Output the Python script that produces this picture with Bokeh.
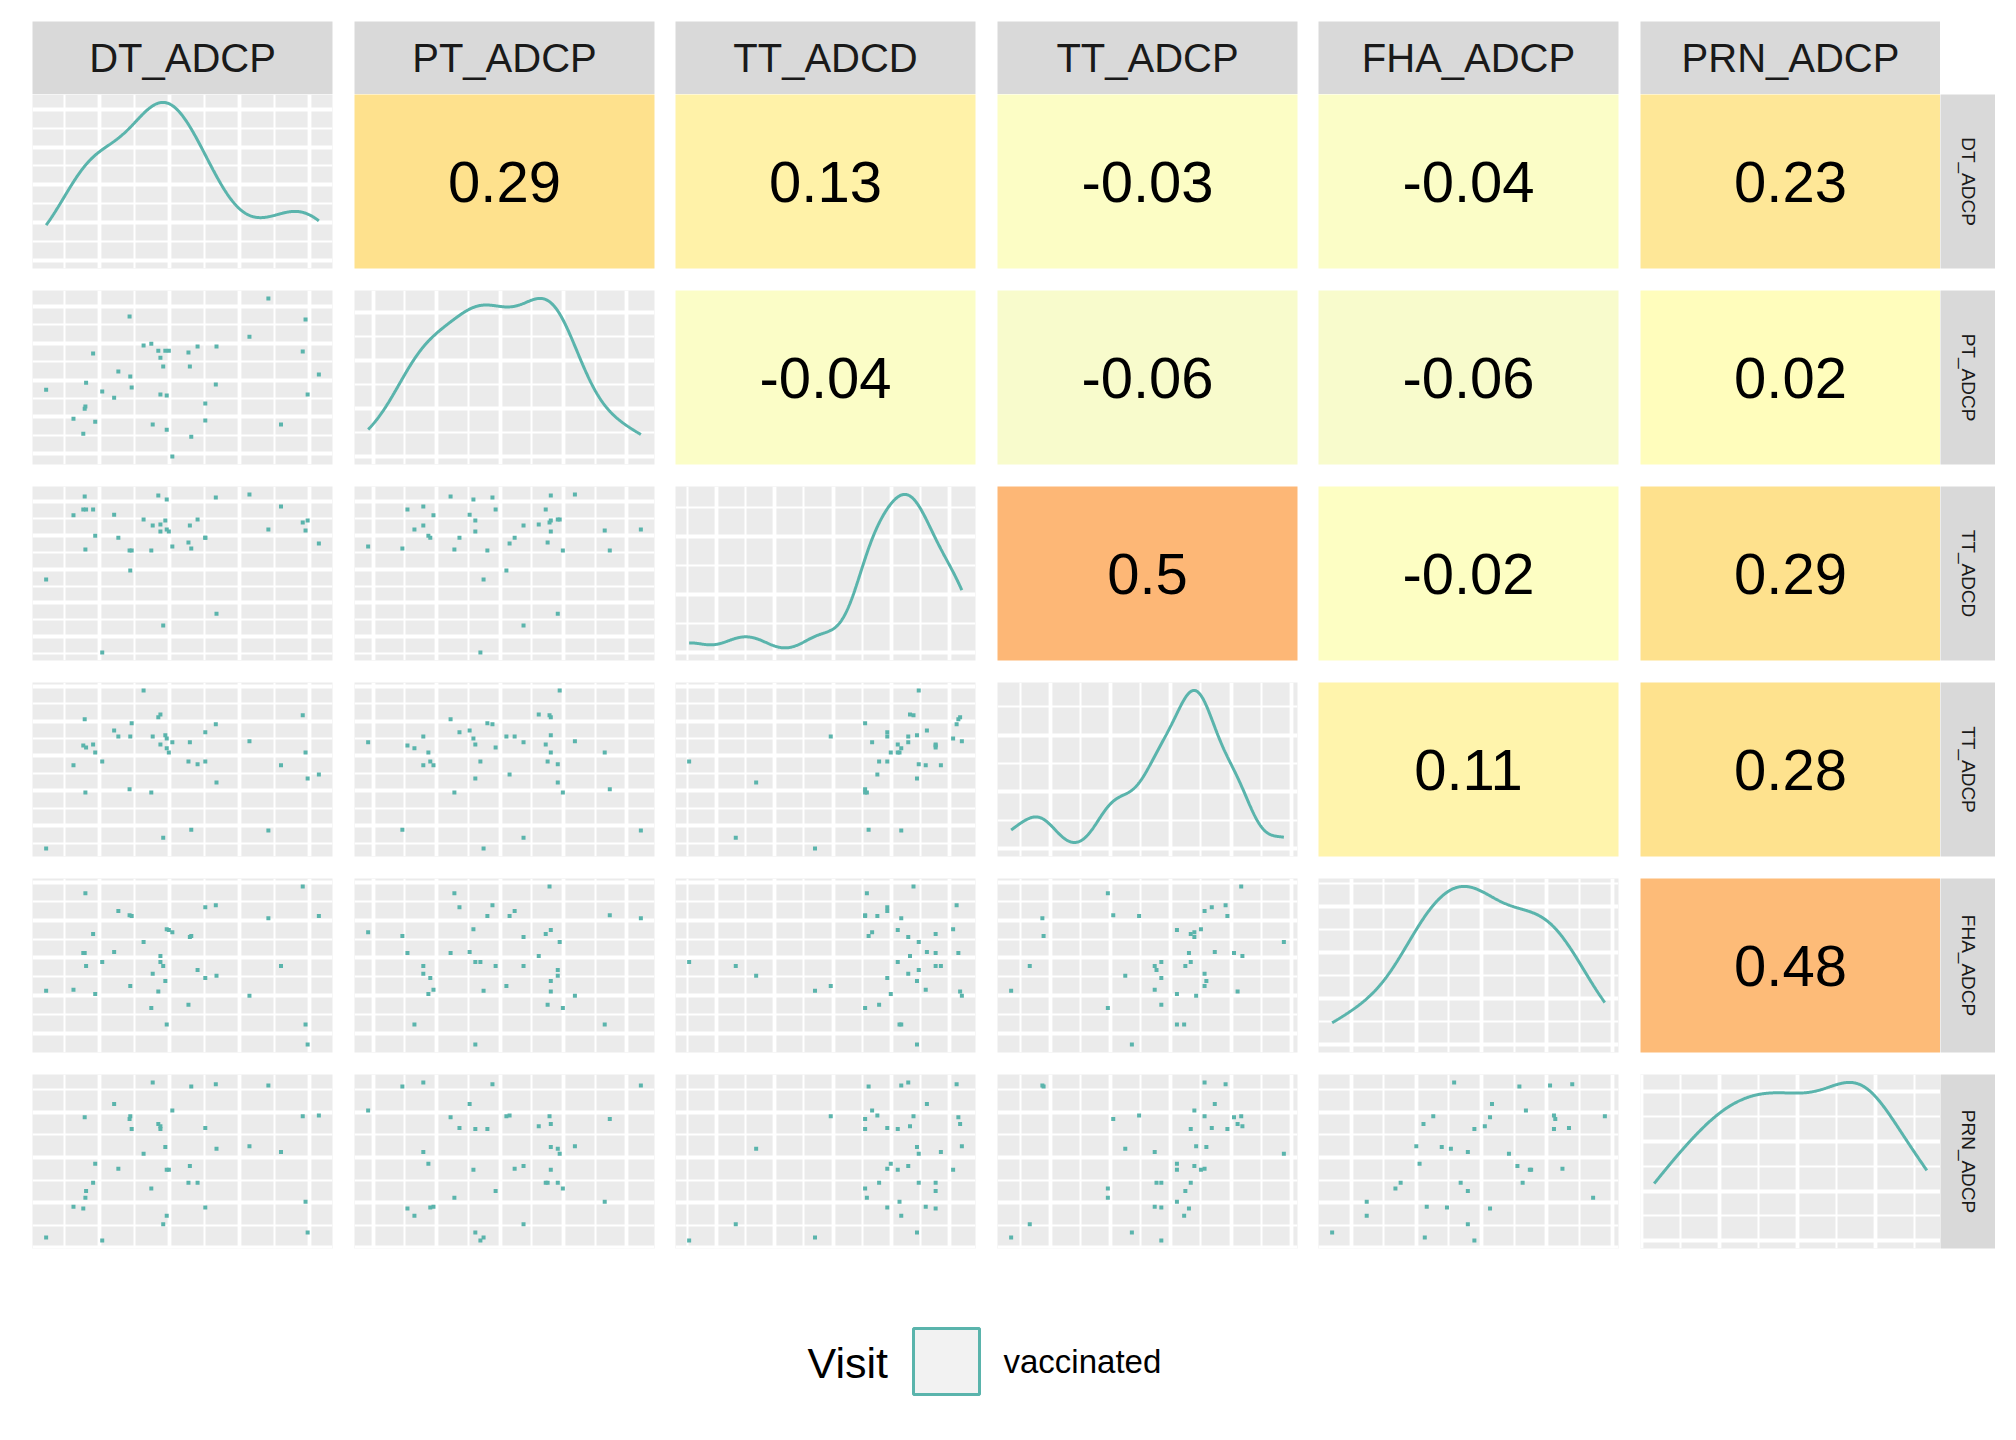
import numpy as np
from bokeh.plotting import figure
from bokeh.layouts import row, column, Spacer
from bokeh.models import Range1d, FixedTicker
from bokeh.embed import file_html
from bokeh.resources import INLINE
from bokeh.core.properties import value

# ---------------- data (arbitrary units) ----------------
variables = ["DT_ADCP", "PT_ADCP", "TT_ADCD", "TT_ADCP", "FHA_ADCP", "PRN_ADCP"]

DT_ADCP = [0.24, 0.63, 0.77, 0.79, 0.80, 0.81, 0.91, 0.94, 1.04, 1.21, 1.27, 1.43, 1.44, 1.46,
           1.63, 1.74, 1.76, 1.84, 1.87, 1.87, 1.91, 1.94, 1.99, 1.96, 1.96, 2.04, 2.27, 2.29,
           2.31, 2.40, 2.51, 2.51, 2.66, 2.67, 3.14, 3.41, 3.59, 3.90, 3.94, 3.97, 4.13]
PT_ADCP = [2.74, 1.95, 1.54, 2.22, 2.28, 2.93, 3.72, 1.87, 2.69, 2.52, 3.23, 4.73, 3.10, 2.80,
           3.94, 3.99, 1.79, 3.80, 3.61, 2.61, 3.37, 3.80, 3.80, 2.58, 1.65, 0.92, 3.75, 3.37,
           1.46, 3.91, 2.36, 1.90, 2.88, 3.91, 4.18, 5.22, 1.79, 3.78, 4.65, 2.61, 3.15]
TT_ADCD = [2.69, 4.59, 4.76, 5.15, 3.58, 4.76, 4.76, 3.99, 0.53, 4.61, 3.93, 3.55, 2.96, 3.55,
           4.47, 3.55, 4.29, 5.18, 4.32, 4.11, 1.33, 4.44, 4.11, 5.06, 4.17, 3.67, 3.79, 4.29,
           3.61, 4.47, 3.93, 3.93, 5.12, 1.68, 5.21, 4.17, 4.85, 4.38, 4.14, 4.44, 3.76]
TT_ADCP = [0.34, 2.73, 3.30, 4.05, 1.95, 3.24, 3.33, 3.10, 2.84, 3.73, 3.56, 2.04, 3.56, 3.94,
           4.88, 1.95, 3.56, 4.11, 4.19, 3.33, 0.65, 3.59, 3.10, 3.50, 3.22, 3.39, 2.84, 3.39,
           0.88, 2.76, 3.68, 2.84, 3.91, 2.24, 3.42, 0.86, 2.73, 4.17, 3.10, 2.35, 2.47]
FHA_ADCP = [2.13, 2.16, 3.13, 3.13, 4.71, 2.79, 3.63, 2.05, 2.89, 3.16, 4.24, 4.13, 2.26, 4.11,
            3.42, 1.68, 2.58, 2.11, 3.05, 2.89, 2.79, 2.39, 3.74, 3.76, 1.24, 3.68, 1.76, 3.55,
            3.58, 2.68, 4.34, 2.47, 4.39, 2.53, 2.00, 4.05, 2.79, 4.89, 1.24, 0.71, 4.11]
PRN_ADCP = [0.23, 0.91, 0.87, 2.89, 1.11, 1.26, 1.44, 1.86, 0.16, 3.18, 1.75, 2.85, 2.91, 2.63,
            2.08, 1.31, 3.66, 2.74, 2.69, 2.63, 0.52, 2.23, 1.73, 1.73, 0.71, 3.04, 1.44, 1.81,
            3.57, 1.44, 2.65, 0.89, 3.62, 2.19, 2.25, 3.59, 2.12, 2.91, 1.02, 0.34, 2.93]

# correlations shown in the upper triangle, row by row
corr_values = [0.29, 0.13, -0.03, -0.04, 0.23,
               -0.04, -0.06, -0.06, 0.02,
               0.5, -0.02, 0.29,
               0.11, 0.28,
               0.48]

diag_peak_in_steps = [4.18, 3.30, 2.72, 2.79, 3.44, 3.19]

legend_title = "Visit"
legend_label = "vaccinated"

series = [DT_ADCP, PT_ADCP, TT_ADCD, TT_ADCP, FHA_ADCP, PRN_ADCP]

# ---------------- styling ----------------
FONT = "Liberation Sans"
TEAL = "#5AB4AC"
PANEL_BG = "#EBEBEB"
STRIP_BG = "#D9D9D9"
FW, FH = 300, 174
GAP = 22
COL_GAPS = [22, 21, 22, 21, 22, 0]
STRIP_H = 73
STRIP_TOP = 21
RSTRIP_W = 55
LEFT_PAD = 32
N = len(variables)

COLOR_STOPS = [(-0.1, (244, 249, 212)), (0.0, (255, 255, 191)),
               (0.3, (254, 224, 139)), (0.5, (253, 183, 118))]


def corr_color(v):
    if v <= COLOR_STOPS[0][0]:
        c = COLOR_STOPS[0][1]
    elif v >= COLOR_STOPS[-1][0]:
        c = COLOR_STOPS[-1][1]
    else:
        for (a, ca), (b, cb) in zip(COLOR_STOPS[:-1], COLOR_STOPS[1:]):
            if a <= v <= b:
                t = (v - a) / (b - a)
                c = tuple(ca[k] + t * (cb[k] - ca[k]) for k in range(3))
                break
    return "#%02X%02X%02X" % tuple(int(round(x)) for x in c)


def expand(lo, hi, mult=0.05):
    d = (hi - lo) * mult
    return lo - d, hi + d


def ticks_for(lo, hi, step):
    majors = [k * step for k in range(int(np.ceil(lo / step)), int(np.floor(hi / step)) + 1)]
    minors = []
    for k in range(int(np.floor(lo / step)) - 1, int(np.ceil(hi / step)) + 1):
        m = (k + 0.5) * step
        if lo <= m <= hi:
            minors.append(m)
    return majors, minors


def kde(vals):
    x = np.asarray(vals, dtype=float)
    n = len(x)
    sd = x.std(ddof=1)
    q75, q25 = np.percentile(x, [75, 25])
    bw = 0.9 * min(sd, (q75 - q25) / 1.34) * n ** -0.2
    g = np.linspace(x.min(), x.max(), 512)
    d = np.exp(-0.5 * ((g[:, None] - x[None, :]) / bw) ** 2).sum(axis=1) / (n * bw * np.sqrt(2 * np.pi))
    return g, d


ranges = [expand(min(s), max(s)) for s in series]


def base_fig(xr, yr, right_border, bg, w=FW, h=FH, top=0, bottom=GAP):
    p = figure(frame_width=w, frame_height=h, x_range=Range1d(*xr), y_range=Range1d(*yr),
               output_backend="svg", toolbar_location=None, title=None,
               x_axis_location=None, y_axis_location=None,
               min_border_left=0, min_border_right=right_border,
               min_border_top=top, min_border_bottom=bottom,
               background_fill_color=bg, border_fill_color="white", outline_line_color=None)
    return p


def style_grid(p, xt, yt):
    for g, (maj, mnr) in ((p.xgrid[0], xt), (p.ygrid[0], yt)):
        g.ticker = FixedTicker(ticks=maj, minor_ticks=mnr)
        g.grid_line_color = "white"
        g.grid_line_width = 3.8
        g.minor_grid_line_color = "white"
        g.minor_grid_line_width = 2


def no_grid(p):
    p.xgrid.grid_line_color = None
    p.ygrid.grid_line_color = None


# ---------------- top strips ----------------
top_row = [Spacer(width=LEFT_PAD, height=STRIP_TOP + STRIP_H)]
for j, name in enumerate(variables):
    s = base_fig((0, 1), (0, 1), COL_GAPS[j], STRIP_BG, h=STRIP_H, top=STRIP_TOP, bottom=0)
    no_grid(s)
    s.text(x=[0.5], y=[0.5], text=[name], text_font=value(FONT), text_font_size="40px",
           text_align="center", text_baseline="middle", text_color="#1A1A1A")
    top_row.append(s)
top_row.append(Spacer(width=RSTRIP_W, height=STRIP_TOP + STRIP_H))
rows = [row(*top_row)]

# ---------------- panels ----------------
ci = 0
corr_lookup = {}
for i in range(N):
    for j in range(i + 1, N):
        corr_lookup[(i, j)] = corr_values[ci]
        ci += 1

for i in range(N):
    items = [Spacer(width=LEFT_PAD, height=FH + GAP)]
    for j in range(N):
        rb = COL_GAPS[j]
        xr = ranges[j]
        xt = ticks_for(xr[0], xr[1], 1.0)
        if i == j:
            g, d = kde(series[j])
            yr = expand(0.0, d.max())
            yt = ticks_for(yr[0], yr[1], d.max() / diag_peak_in_steps[j])
            p = base_fig(xr, yr, rb, PANEL_BG)
            style_grid(p, xt, yt)
            p.line(g, d, line_color=TEAL, line_width=3)
        elif i > j:
            yr = ranges[i]
            yt = ticks_for(yr[0], yr[1], 1.0)
            p = base_fig(xr, yr, rb, PANEL_BG)
            style_grid(p, xt, yt)
            p.scatter(series[j], series[i], marker="square", size=4,
                      fill_color=TEAL, line_color=None)
        else:
            v = corr_lookup[(i, j)]
            p = base_fig((0, 1), (0, 1), rb, corr_color(v))
            no_grid(p)
            p.text(x=[0.5], y=[0.5], text=[f"{v:g}"], text_font=value(FONT),
                   text_font_size="58px", text_align="center", text_baseline="middle",
                   text_color="black")
        items.append(p)
    rs = base_fig((0, 1), (0, 1), 0, STRIP_BG, w=RSTRIP_W)
    no_grid(rs)
    rs.text(x=[0.5], y=[0.5], text=[variables[i]], text_font=value(FONT),
            text_font_size="19px", text_align="center", text_baseline="middle",
            text_color="#1A1A1A", angle=-np.pi / 2)
    items.append(rs)
    rows.append(row(*items))

# ---------------- legend ----------------
LW, LH = 2000, 150
lg = figure(frame_width=LW, frame_height=LH, x_range=Range1d(0, LW), y_range=Range1d(LH, 0),
            output_backend="svg", toolbar_location=None, title=None,
            x_axis_location=None, y_axis_location=None, min_border=0,
            background_fill_color="white", border_fill_color="white", outline_line_color=None)
no_grid(lg)
lg.text(x=[807], y=[92], text=[legend_title], text_font=value(FONT), text_font_size="43px",
        text_align="left", text_baseline="middle", text_color="black")
lg.rect(x=[946], y=[91], width=66, height=66, fill_color="#F2F2F2", line_color=TEAL, line_width=3)
lg.text(x=[1003], y=[91], text=[legend_label], text_font=value(FONT), text_font_size="33px",
        text_align="left", text_baseline="middle", text_color="black")
rows.append(lg)

layout = column(*rows)
open("out.html", "w").write(file_html(layout, INLINE))
